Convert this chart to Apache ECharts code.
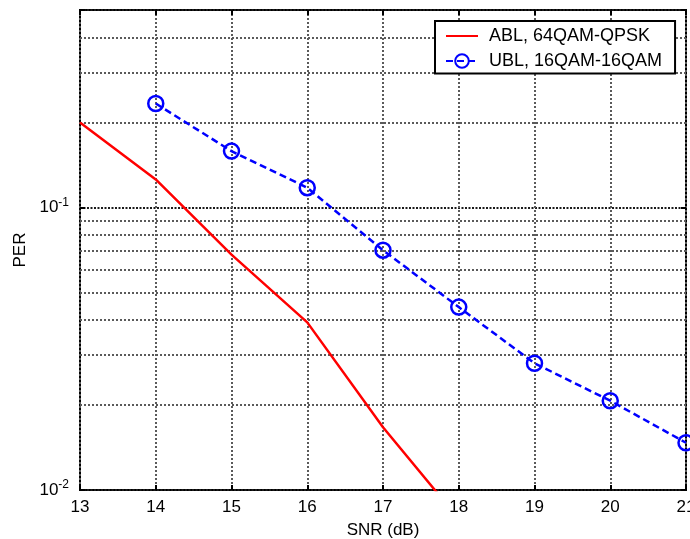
<!DOCTYPE html>
<html>
<head>
<meta charset="utf-8">
<script src="https://cdn.jsdelivr.net/npm/echarts@6/dist/echarts.min.js"></script>
<style>html,body{margin:0;padding:0;background:#fff;}#c{width:690px;height:539px;}</style>
</head>
<body>
<div id="c"></div>
<script>
// ---- data ----
var snrABL = [13, 14, 15, 16, 17, 18];
var perABL = [0.2, 0.1257, 0.0681, 0.0392, 0.01668, 0.0079];
var snrUBL = [14, 15, 16, 17, 18, 19, 20, 21];
var perUBL = [0.2333, 0.1583, 0.1175, 0.0706, 0.0444, 0.0281, 0.0207, 0.0147];
var seriesNames = ['ABL, 64QAM-QPSK', 'UBL, 16QAM-16QAM'];
var xTicks = [13, 14, 15, 16, 17, 18, 19, 20, 21];
var minorGridValues = [0.02, 0.03, 0.04, 0.05, 0.06, 0.07, 0.08, 0.09, 0.2, 0.3, 0.4];

var FONT = "'Liberation Sans', Arial, Helvetica, sans-serif";
var FS = 17;
var gridStyle = {color: '#5a5a5a', width: 2, type: [2, 2]};

function pairs(xs, ys) { return xs.map(function (x, i) { return [x, ys[i]]; }); }

var chart = echarts.init(document.getElementById('c'), null, {renderer: 'canvas'});
chart.setOption({
  animation: false,
  backgroundColor: '#fff',
  textStyle: {fontFamily: FONT},
  grid: {left: 80, right: 4, top: 10, bottom: 49, show: true, borderColor: '#000', borderWidth: 2,
         backgroundColor: '#fff', containLabel: false, outerBoundsMode: 'none'},
  legend: {
    z: 20,
    orient: 'vertical', left: 435, top: 21,
    padding: [6, 13, 3.5, 10],
    itemWidth: 32, itemHeight: 17, itemGap: 7,
    backgroundColor: '#fff', borderColor: '#000', borderWidth: 2,
    textStyle: {fontFamily: FONT, fontSize: 18, color: '#000', padding: [0, 0, 0, 6]},
    data: [
      {name: seriesNames[0], itemStyle: {opacity: 0}},
      {name: seriesNames[1]}
    ]
  },
  xAxis: [{
    type: 'value', min: xTicks[0], max: xTicks[xTicks.length - 1], interval: 1,
    name: 'SNR (dB)', nameLocation: 'middle', nameGap: 32,
    nameTextStyle: {fontFamily: FONT, fontSize: FS, color: '#000'},
    axisLine: {show: false},
    axisTick: {show: true, inside: true, length: 5, lineStyle: {color: '#000', width: 2}},
    axisLabel: {fontFamily: FONT, fontSize: FS, color: '#000', margin: 9},
    splitLine: {show: true, lineStyle: gridStyle}
  }, {
    type: 'value', position: 'top', min: xTicks[0], max: xTicks[xTicks.length - 1], interval: 1,
    axisLine: {show: false},
    axisTick: {show: true, inside: true, length: 5, lineStyle: {color: '#000', width: 2}},
    axisLabel: {show: false}, splitLine: {show: false}
  }],
  yAxis: [{
    type: 'log', logBase: 10, min: 0.01, max: 0.5,
    name: 'PER', nameLocation: 'middle', nameGap: 47,
    nameTextStyle: {fontFamily: FONT, fontSize: FS, color: '#000'},
    axisLine: {show: false},
    axisTick: {show: true, inside: true, length: 5, lineStyle: {color: '#000', width: 2}},
    axisLabel: {
      margin: 11,
      formatter: function (v) {
        var e = Math.log10(v);
        if (Math.abs(e - Math.round(e)) > 1e-6) return '';
        return '{a|10}{b|' + Math.round(e) + '}';
      },
      rich: {
        a: {fontFamily: FONT, fontSize: FS, color: '#000'},
        b: {fontFamily: FONT, fontSize: 12, color: '#000', padding: [0, 0, 10, 0]}
      }
    },
    splitLine: {show: true, lineStyle: {color: '#1a1a1a', width: 2, type: [2, 1.5]}}
  }, {
    type: 'log', logBase: 10, min: 0.01, max: 0.5, position: 'right',
    axisLine: {show: false},
    axisTick: {show: true, inside: true, length: 5, lineStyle: {color: '#000', width: 2}},
    axisLabel: {show: false}, splitLine: {show: false}
  }],
  series: [{
    name: 'minorGrid', type: 'line', data: [], z: 1, silent: true,
    markLine: {
      z: 1,
      silent: true, symbol: ['none', 'none'], label: {show: false},
      lineStyle: gridStyle, animation: false,
      data: minorGridValues.map(function (v) { return {yAxis: v}; })
    }
  }, {
    name: seriesNames[0], type: 'line', z: 3,
    data: pairs(snrABL, perABL),
    showSymbol: false, symbol: 'none',
    lineStyle: {color: '#ff0000', width: 2.5},
    itemStyle: {color: '#ff0000'},
    clip: true
  }, {
    name: seriesNames[1], type: 'line', z: 4,
    data: pairs(snrUBL, perUBL),
    symbol: 'circle', symbolSize: 15,
    lineStyle: {color: '#0000ff', width: 2.5, type: [7, 4]},
    itemStyle: {color: 'rgba(0,0,0,0)', borderColor: '#0000ff', borderWidth: 2.5},
    clip: false
  }]
});
</script>
</body>
</html>
